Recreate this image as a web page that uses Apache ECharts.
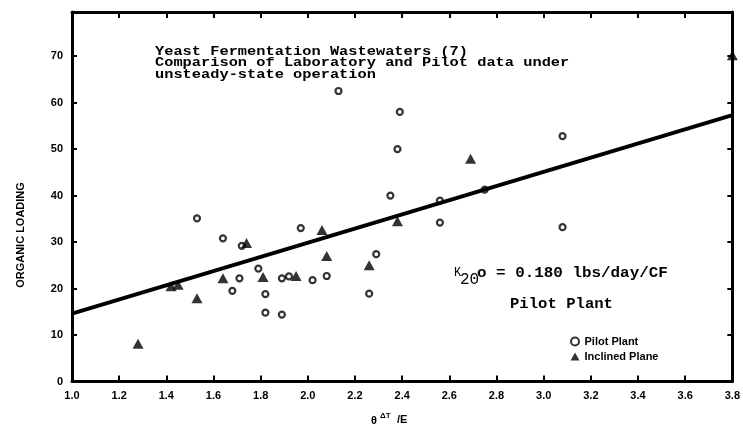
<!DOCTYPE html>
<html>
<head>
<meta charset="utf-8">
<script src="https://cdn.jsdelivr.net/npm/echarts@6/dist/echarts.min.js"></script>
<style>
  html, body { margin: 0; padding: 0; background: #fff; }
  #chart { width: 743px; height: 435px; }
</style>
</head>
<body>
<div id="chart"></div>
<script>
// Pilot plant runs (open circles)
const pilotX = [1.53, 1.64, 1.72, 1.79, 1.71, 1.68, 1.82, 1.82, 1.89, 1.89, 1.92, 1.97, 2.02,
                2.08, 2.13, 2.26, 2.29, 2.35, 2.38, 2.39, 2.56, 2.56, 2.75, 3.08, 3.08];
const pilotY = [35.1, 30.8, 29.2, 24.3, 22.2, 19.5, 18.8, 14.8, 14.4, 22.2, 22.6, 33.0, 21.8,
                22.7, 62.5, 18.9, 27.4, 40.0, 50.0, 58.0, 38.9, 34.2, 41.3, 52.8, 33.2];

// Inclined plane runs (filled triangles)
const inclinedX = [1.28, 1.42, 1.45, 1.53, 1.64, 1.74, 1.81, 1.95, 2.06, 2.08, 2.26, 2.38, 2.69, 3.80];
const inclinedY = [8.1, 20.5, 20.8, 17.9, 22.2, 29.8, 22.5, 22.7, 32.6, 27.0, 25.0, 34.5, 47.9, 70.2];

// Fitted line end points
const fitX = [1.0, 3.8];
const fitY = [14.6, 57.3];

const seriesNames = ['Pilot Plant', 'Inclined Plane'];
const titleLines = [
  'Yeast Fermentation Wastewaters (7)',
  'Comparison of Laboratory and Pilot data under',
  'unsteady-state operation'
];

const INK = '#000';
const zip = (xs, ys) => xs.map((x, i) => [x, ys[i]]);

const labelFont = { color: INK, fontFamily: 'Liberation Sans', fontWeight: 'bold', fontSize: 11 };
const monoFont = 'Liberation Mono';

const xBase = {
  type: 'value', min: 1.0, max: 3.8, interval: 0.2,
  axisLine: { onZero: false, lineStyle: { color: INK, width: 3 } },
  axisTick: { inside: true, length: 6, lineStyle: { color: INK, width: 2 } },
  splitLine: { show: false }
};
const yBase = {
  type: 'value', min: 0, max: 79.5, interval: 10,
  axisLine: { onZero: false, lineStyle: { color: INK, width: 3 } },
  axisTick: { inside: true, length: 5, lineStyle: { color: INK, width: 2 } },
  splitLine: { show: false }
};

// Typewriter-style annotation: a mono face stretched horizontally
function typed(text, x, y, size, stretch, extra) {
  return {
    type: 'text', x: x, y: y, scaleX: stretch,
    style: Object.assign({ text: text, fontFamily: monoFont, fontWeight: 'bold', fontSize: size, fill: INK, verticalAlign: 'middle' }, extra || {})
  };
}

const chart = echarts.init(document.getElementById('chart'), null, { renderer: 'canvas' });

chart.setOption({
  animation: false,
  backgroundColor: '#fff',
  grid: { left: 72, right: 5, top: 12, bottom: 53.5 },
  xAxis: [
    Object.assign({}, xBase, {
      position: 'bottom',
      axisLabel: Object.assign({ margin: 9, formatter: v => v.toFixed(1) }, labelFont)
    }),
    Object.assign({}, xBase, { position: 'top', axisLabel: { show: false } })
  ],
  yAxis: [
    Object.assign({}, yBase, {
      position: 'left',
      axisLabel: Object.assign({ margin: 9, showMaxLabel: false }, labelFont)
    }),
    Object.assign({}, yBase, { position: 'right', axisLabel: { show: false } })
  ],
  legend: {
    data: seriesNames,
    orient: 'vertical',
    left: 565, top: 331,
    itemWidth: 9, itemHeight: 8, itemGap: 4,
    textStyle: { color: INK, fontFamily: 'Liberation Sans', fontWeight: 'bold', fontSize: 11 }
  },
  series: [
    {
      type: 'line',
      data: zip(fitX, fitY),
      symbol: 'none',
      lineStyle: { color: INK, width: 4 },
      z: 2,
      silent: true
    },
    {
      name: seriesNames[0],
      type: 'scatter',
      data: zip(pilotX, pilotY),
      symbol: 'circle',
      symbolSize: 6,
      itemStyle: { color: 'rgba(255,255,255,0)', borderColor: INK, borderWidth: 2.2 },
      z: 3
    },
    {
      name: seriesNames[1],
      type: 'scatter',
      data: zip(inclinedX, inclinedY),
      symbol: 'triangle',
      symbolSize: [11, 10],
      itemStyle: { color: INK },
      z: 3
    }
  ],
  graphic: [
    typed(titleLines[0], 155, 51.5, 13, 1.18),
    typed(titleLines[1], 155, 63, 13, 1.18),
    typed(titleLines[2], 155, 74.5, 13, 1.18),
    typed('K', 454, 272.5, 12, 1.0, { fontWeight: 'normal' }),
    typed('20', 460, 280, 16, 1.0, { fontWeight: 'normal' }),
    typed('o = 0.180 lbs/day/CF', 477, 273.5, 15, 1.06),
    typed('Pilot Plant', 510, 304, 15, 1.04),
    {
      type: 'text', x: 21, y: 235, rotation: Math.PI / 2,
      style: { text: 'ORGANIC LOADING', fontFamily: 'Liberation Sans', fontWeight: 'bold', fontSize: 11, fill: INK, align: 'center', verticalAlign: 'middle' }
    },
    {
      type: 'text', x: 371, y: 420.5, style: { text: 'θ', fontFamily: 'Liberation Sans', fontWeight: 'bold', fontSize: 11, fill: INK, verticalAlign: 'middle' }
    },
    {
      type: 'text', x: 380, y: 416, style: { text: 'ΔT', fontFamily: 'Liberation Sans', fontWeight: 'bold', fontSize: 8, fill: INK, verticalAlign: 'middle' }
    },
    {
      type: 'text', x: 397, y: 420, style: { text: '/E', fontFamily: 'Liberation Sans', fontWeight: 'bold', fontSize: 11, fill: INK, verticalAlign: 'middle' }
    }
  ]
});
</script>
</body>
</html>
